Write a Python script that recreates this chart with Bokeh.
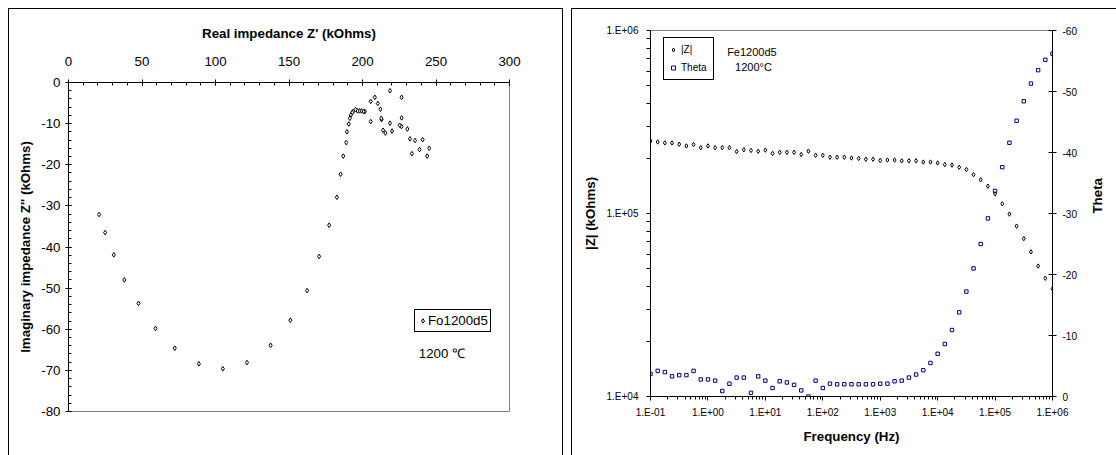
import math

from bokeh.embed import file_html
from bokeh.layouts import row
from bokeh.models import (FixedTicker, Label, Legend, LegendItem, LinearAxis,
                          LinearScale, Range1d)
from bokeh.plotting import figure
from bokeh.resources import INLINE

FONT = "Liberation Sans"
NAVY = "#000080"

# ---------------- Nyquist plot data (kOhms) ----------------
z_real = [245.4, 244.0, 238.8, 240.9, 235.7, 232.3, 233.6, 230.5, 226.6, 226.6,
          226.6, 225.3, 220.1, 218.7, 218.7, 215.6, 214.0, 213.0, 212.8, 212.2,
          210.4, 208.4, 205.6, 205.6,
          201.6, 200.7, 199.3, 198.0, 196.6, 195.3, 193.7, 193.0, 192.1,
          191.4, 190.7, 189.4, 188.9, 186.9, 185.1, 182.6, 177.3, 170.5, 162.3,
          150.9, 137.5, 121.4, 105.0, 88.7, 72.3, 59.2, 47.6, 38.0, 30.8, 24.9, 20.8]
z_imag = [-16.0, -17.9, -16.3, -13.9, -14.1, -13.7, -17.3, -11.3, -10.7, -8.6,
          -3.6, -10.4, -11.8, -9.9, -2.0, -12.3, -11.6, -9.0, -8.7, -6.5,
          -5.1, -3.6, -4.6, -9.5,
          -7.1, -7.0, -6.9, -6.9, -6.9, -6.6, -7.0, -7.3, -7.9,
          -8.7, -10.1, -12.0, -14.6, -17.9, -22.3, -27.9, -34.7, -42.3, -50.6,
          -57.8, -63.9, -68.1, -69.6, -68.4, -64.6, -59.8, -53.7, -48.0, -41.9, -36.5, -32.1]

nyq_x_ticks = [0, 50, 100, 150, 200, 250, 300]
nyq_y_ticks = [0, -10, -20, -30, -40, -50, -60, -70, -80]
nyq_y_labels = ["0", "-10", "-20", "-30", "-40", "-50", "-60", "-70", "-80"]

# ---------------- Bode plot data ----------------
freq_hz = [0.1, 0.1334, 0.1778, 0.2371, 0.3162, 0.4217, 0.5623, 0.7499,
           1.0, 1.334, 1.778, 2.371, 3.162, 4.217, 5.623, 7.499,
           10.0, 13.34, 17.78, 23.71, 31.62, 42.17, 56.23, 74.99,
           100.0, 133.4, 177.8, 237.1, 316.2, 421.7, 562.3, 749.9,
           1000.0, 1334.0, 1778.0, 2371.0, 3162.0, 4217.0, 5623.0, 7499.0,
           10000.0, 13340.0, 17780.0, 23710.0, 31620.0, 42170.0, 56230.0, 74990.0,
           100000.0, 133400.0, 177800.0, 237100.0, 316200.0, 421700.0, 562300.0, 749900.0,
           1000000.0]
z_mod = [249000, 246000, 243000, 243000, 239000, 234000, 238000, 229000,
         234000, 229000, 229000, 229000, 218000, 223000, 221000, 219000,
         222000, 213000, 216000, 216000, 216000, 210000, 219000, 208000,
         208000, 203000, 203000, 203000, 201000, 200000, 198000, 198000,
         195000, 196000, 196000, 194000, 194000, 194000, 191000, 191000,
         189000, 185000, 184000, 179000, 174000, 163000, 153000, 141000,
         128000, 113000, 99300, 85300, 72900, 61700, 51600, 44300,
         38800]
theta_deg = [-3.7, -4.2, -4.0, -3.3, -3.5, -3.5, -4.2, -2.8,
             -2.8, -2.6, -0.9, -2.1, -3.1, -3.1, -0.6, -3.3,
             -2.6, -1.4, -2.5, -2.3, -1.9, -1.0, 0.0, -2.6,
             -1.4, -2.1, -2.0, -2.0, -2.0, -2.0, -2.0, -2.0,
             -2.1, -2.1, -2.5, -2.6, -3.1, -3.6, -4.3, -5.5,
             -7.0, -8.6, -10.9, -13.8, -17.2, -21.0, -25.0, -29.2,
             -33.7, -37.6, -41.6, -45.2, -48.4, -51.3, -53.5, -55.2,
             -56.2]

f_ticks = [0.1, 1, 10, 100, 1000, 10000, 100000, 1000000]
f_labels = ["1.E-01", "1.E+00", "1.E+01", "1.E+02", "1.E+03", "1.E+04", "1.E+05", "1.E+06"]
zmod_ticks = [10000, 100000, 1000000]
zmod_labels = ["1.E+04", "1.E+05", "1.E+06"]
theta_ticks = [0, -10, -20, -30, -40, -50, -60]
theta_labels = ["0", "-10", "-20", "-30", "-40", "-50", "-60"]

W1, W2, H = 567, 549, 455


def style_axis(ax, label_px, title_px):
    ax.axis_line_color = "black"
    ax.major_tick_line_color = "black"
    ax.minor_tick_line_color = "black"
    ax.major_label_text_font = FONT
    ax.major_label_text_font_size = label_px
    ax.major_label_text_color = "black"
    ax.axis_label_text_font = FONT
    ax.axis_label_text_font_size = title_px
    ax.axis_label_text_font_style = "bold"
    ax.axis_label_text_color = "black"


def log_minors(lo_exp, hi_exp):
    return [m * 10.0 ** e for e in range(lo_exp, hi_exp) for m in range(2, 10)]


def panel_frame_css(lines):
    # thin black chart-area border lines painted behind the transparent canvas border
    parts = [f"linear-gradient(#000,#000) {x}px {y}px / {w} {h} no-repeat"
             for x, y, w, h in lines]
    return ", ".join(parts + ["#ffffff"])


# ================= Nyquist panel =================
p1 = figure(width=W1, height=H, x_range=Range1d(0, 300), y_range=Range1d(-80, 0),
            x_axis_location="above", output_backend="svg", toolbar_location=None,
            min_border_left=68, min_border_right=W1 - 509,
            min_border_top=82, min_border_bottom=H - 411)
p1.frame_align = False
p1.grid.visible = False
p1.outline_line_color = "#808080"
p1.background_fill_color = "white"
p1.border_fill_alpha = 0
p1.styles = {"background": panel_frame_css([(8, 8, "1px", "100%"),
                                            (8, 8, "555px", "1px"),
                                            (562, 8, "1px", "100%")])}

xa = p1.xaxis[0]
style_axis(xa, "13.3px", "13.3px")
xa.ticker = FixedTicker(ticks=nyq_x_ticks, minor_ticks=list(range(0, 301, 10)))
xa.major_tick_in, xa.major_tick_out = 3, 3
xa.minor_tick_in, xa.minor_tick_out = 3, 0
xa.major_label_standoff = 14
xa.axis_label = "Real impedance Z' (kOhms)"
xa.axis_label_standoff = 13

ya = p1.yaxis[0]
style_axis(ya, "13.3px", "13.3px")
ya.ticker = FixedTicker(ticks=nyq_y_ticks, minor_ticks=list(range(-80, 1, 2)))
ya.major_label_overrides = dict(zip(nyq_y_ticks, nyq_y_labels))
ya.major_tick_in, ya.major_tick_out = 3, 3
ya.minor_tick_in, ya.minor_tick_out = 3, 0
ya.major_label_standoff = 5
ya.axis_label = "Imaginary impedance Z'' (kOhms)"
ya.axis_label_standoff = 5

r_nyq = p1.scatter(z_real, z_imag, marker="diamond", size=4.6,
                   line_color="black", fill_color="white", line_width=1)

leg1 = Legend(items=[LegendItem(label="Fo1200d5", renderers=[r_nyq])],
              location=(346, 79), margin=0, padding=2, spacing=0,
              glyph_width=11, glyph_height=17, label_height=17, label_standoff=0,
              border_line_color="black", border_line_width=1, border_line_alpha=1,
              background_fill_color="white", background_fill_alpha=1,
              label_text_font=FONT, label_text_font_size="13.3px",
              label_text_color="black")
p1.add_layout(leg1)

p1.add_layout(Label(x=238.3, y=-66.0, text="1200 \u2103", text_font=FONT,
                    text_font_size="13.3px", text_baseline="middle", text_color="black"))

# ================= Bode panel =================
p2 = figure(width=W2, height=H, x_axis_type="log", y_axis_type="log",
            x_range=Range1d(0.1, 1e6), y_range=Range1d(1e4, 1e6),
            output_backend="svg", toolbar_location=None,
            min_border_left=83, min_border_right=64,
            min_border_top=30, min_border_bottom=59)
p2.frame_align = False
p2.grid.visible = False
p2.outline_line_color = "#808080"
p2.background_fill_color = "white"
p2.border_fill_alpha = 0
p2.styles = {"background": panel_frame_css([(4, 8, "1px", "100%"),
                                            (4, 8, "100%", "1px")])}
p2.extra_y_ranges = {"theta": Range1d(0, -60)}
p2.extra_y_scales = {"theta": LinearScale()}

fa = p2.xaxis[0]
style_axis(fa, "10px", "13.3px")
fa.ticker = FixedTicker(ticks=f_ticks, minor_ticks=log_minors(-1, 6))
fa.major_label_overrides = dict(zip(f_ticks, f_labels))
fa.major_tick_in, fa.major_tick_out = 0, 4
fa.minor_tick_in, fa.minor_tick_out = 0, 3
fa.major_label_standoff = 6
fa.axis_label = "Frequency (Hz)"
fa.axis_label_standoff = 8

za = p2.yaxis[0]
style_axis(za, "10px", "13.3px")
za.ticker = FixedTicker(ticks=zmod_ticks, minor_ticks=log_minors(4, 6))
za.major_label_overrides = dict(zip(zmod_ticks, zmod_labels))
za.major_tick_in, za.major_tick_out = 0, 4
za.minor_tick_in, za.minor_tick_out = 0, 4
za.major_label_standoff = 8
za.axis_label = "|Z| (kOhms)"
za.axis_label_standoff = 6

ta = LinearAxis(y_range_name="theta")
style_axis(ta, "10px", "13.3px")
ta.ticker = FixedTicker(ticks=theta_ticks)
ta.major_label_overrides = dict(zip(theta_ticks, theta_labels))
ta.major_tick_in, ta.major_tick_out = 4, 4
ta.minor_tick_line_color = None
ta.major_label_standoff = 6
ta.axis_label = "Theta"
ta.axis_label_standoff = 18
if "axis_label_orientation" in ta.properties():
    # read bottom-to-top, like the left-hand title
    ta.axis_label_orientation = math.pi / 2
p2.add_layout(ta, "right")

r_mod = p2.scatter(freq_hz, z_mod, marker="diamond", size=4.4,
                   line_color="black", fill_color="white", line_width=1)
r_theta = p2.scatter(freq_hz, theta_deg, y_range_name="theta", marker="square",
                     size=3.4, line_color=NAVY, fill_alpha=0, line_width=1)

leg2 = Legend(items=[LegendItem(label="|Z|", renderers=[r_mod]),
                     LegendItem(label="Theta", renderers=[r_theta])],
              location=(13, 316), margin=0, padding=4, spacing=3,
              glyph_width=10, glyph_height=15, label_height=15, label_width=28,
              label_standoff=3,
              border_line_color="black", border_line_width=1, border_line_alpha=1,
              background_fill_color="white", background_fill_alpha=1,
              label_text_font=FONT, label_text_font_size="10px",
              label_text_color="black")
p2.add_layout(leg2)

p2.add_layout(Label(x=2.16, y=7.6e5, text="Fe1200d5", text_font=FONT,
                    text_font_size="11px", text_baseline="middle", text_color="black"))
p2.add_layout(Label(x=2.97, y=6.3e5, text="1200\u00b0C", text_font=FONT,
                    text_font_size="11px", text_baseline="middle", text_color="black"))

layout = row(p1, p2)

with open("out.html", "w") as fh:
    fh.write(file_html(layout, INLINE))
